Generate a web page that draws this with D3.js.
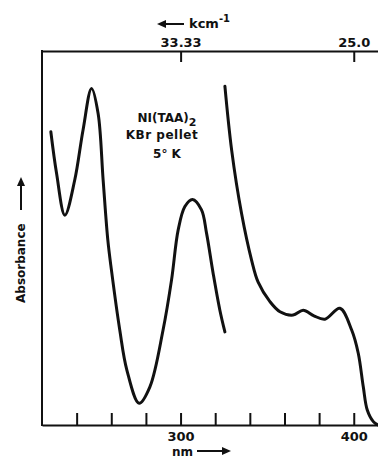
<!DOCTYPE html>
<html>
<head>
<meta charset="utf-8">
<script src="https://cdn.jsdelivr.net/npm/d3@7"></script>
<style>
  body { margin: 0; background: #fff; }
  svg { display: block; }
  text { font-family: 'DejaVu Sans', sans-serif; font-weight: bold; fill: #111; }
  .axis path, .axis line { stroke: #111; stroke-width: 2; }
  .axis text { font-size: 13px; font-family: 'DejaVu Sans', sans-serif; font-weight: bold; }
</style>
</head>
<body>
<div class="spectrum-container"></div>
<script>
// Ni(TAA)2 in KBr, 5 K: wavelength (nm) vs absorbance (arbitrary units)
// UV band, left trace
const uvNm  = [225.1, 228.4, 233.2, 238.9, 243.7, 248.6, 252.4, 255.3, 258.0, 260.1, 264.9, 269.0, 276.1, 282.3, 289.9, 294.8, 298.6, 302.5, 306.9, 312.1, 315.0, 318.8, 322.7, 325.6];
const uvAbs = [0.784, 0.673, 0.561, 0.655, 0.789, 0.900, 0.833, 0.655, 0.495, 0.414, 0.254, 0.147, 0.058, 0.102, 0.254, 0.388, 0.521, 0.584, 0.603, 0.575, 0.513, 0.406, 0.307, 0.249];
// visible trace, right
const visNm  = [325.6, 329.5, 335.2, 341.0, 344.8, 351.6, 357.4, 365.0, 370.8, 377.0, 383.4, 392.0, 398.8, 402.6, 405.5, 407.8, 411.3, 414.0];
const visAbs = [0.906, 0.735, 0.566, 0.441, 0.382, 0.330, 0.303, 0.294, 0.307, 0.292, 0.283, 0.312, 0.254, 0.192, 0.102, 0.040, 0.009, 0.000];

const nmTicks = [240, 260, 280, 300, 320, 340, 360, 380, 400];
const nmLabels = [300, 400];
const kcmTicks = [33.33, 25.0];

const svg_width = 378;
const svg_height = 459;
const margin = { top: 51, right: 0, bottom: 34, left: 42 };

const svg = d3.select('.spectrum-container').append('svg')
    .attr('width', svg_width).attr('height', svg_height);

// scales
const xScale = d3.scaleLinear().domain([220, 414]).range([margin.left, svg_width - margin.right]);
const yScale = d3.scaleLinear().domain([0, 1]).range([svg_height - margin.bottom, margin.top]);

// axes
const xAxis = d3.axisBottom(xScale).tickValues(nmTicks)
    .tickFormat(d => nmLabels.includes(d) ? d : '')
    .tickSizeInner(-12).tickSizeOuter(0).tickPadding(7);
svg.append('g').attr('class', 'x axis')
    .attr('transform', `translate(0,${yScale(0)})`)
    .call(xAxis);

// top axis in wavenumbers (kcm^-1), 1e4 / kcm = nm
const topAxis = d3.axisTop(xScale).tickValues(kcmTicks.map(k => 1e4 / k))
    .tickFormat((d, i) => kcmTicks[i] === 25 ? '25.0' : kcmTicks[i])
    .tickSizeInner(-11).tickSizeOuter(0).tickPadding(4);
svg.append('g').attr('class', 'top axis')
    .attr('transform', `translate(0,${yScale(1)})`)
    .call(topAxis);

// left frame line
svg.append('line')
    .attr('x1', margin.left).attr('x2', margin.left)
    .attr('y1', yScale(1) - 1).attr('y2', yScale(0) + 1)
    .style('stroke', '#111').style('stroke-width', 2);

// traces
const line = d3.line()
    .x(d => xScale(d[0]))
    .y(d => yScale(d[1]))
    .curve(d3.curveCatmullRom.alpha(0.5));

const traces = [d3.zip(uvNm, uvAbs), d3.zip(visNm, visAbs)];
svg.selectAll('.trace').data(traces).enter()
    .append('path')
    .attr('class', 'trace')
    .attr('d', line)
    .style('fill', 'none')
    .style('stroke', '#111')
    .style('stroke-width', 3)
    .style('stroke-linejoin', 'round')
    .style('stroke-linecap', 'round');

// sample label
const note = svg.append('text').attr('text-anchor', 'middle').style('font-size', '12px');
const l1 = note.append('tspan').attr('x', 167).attr('y', 122).text('NI(TAA)');
l1.clone().text('2').attr('x', null).attr('y', null).attr('dy', 4).style('font-size', '11px');
svg.append('text').attr('text-anchor', 'middle').attr('x', 162).attr('y', 139)
    .style('font-size', '12px').style('letter-spacing', '0.5px').text('KBr pellet');
svg.append('text').attr('text-anchor', 'middle').attr('x', 167).attr('y', 158)
    .style('font-size', '12px').text('5° K');

// arrows helper
function arrow(g, x1, y1, x2, y2) {
    const ang = Math.atan2(y2 - y1, x2 - x1);
    const hl = 9, hw = 4;
    g.append('line').attr('x1', x1).attr('y1', y1).attr('x2', x2 - Math.cos(ang) * hl * 0.8).attr('y2', y2 - Math.sin(ang) * hl * 0.8)
        .style('stroke', '#111').style('stroke-width', 2);
    const bx = x2 - Math.cos(ang) * hl, by = y2 - Math.sin(ang) * hl;
    g.append('path')
        .attr('d', `M${x2},${y2}L${bx - Math.sin(ang) * hw},${by + Math.cos(ang) * hw}L${bx + Math.sin(ang) * hw},${by - Math.cos(ang) * hw}Z`)
        .style('fill', '#111');
}

// top label
arrow(svg, 184, 24, 157, 24);
const kt = svg.append('text').attr('x', 189).attr('y', 28).style('font-size', '13px');
kt.append('tspan').text('kcm');
kt.append('tspan').attr('dy', -6).style('font-size', '10px').text('-1');

// bottom label
svg.append('text').attr('x', 172).attr('y', 456).style('font-size', '12px').text('nm');
arrow(svg, 197, 451, 231, 451);

// y label
svg.append('text')
    .attr('transform', 'translate(25,303) rotate(-90)')
    .style('font-size', '12px')
    .text('Absorbance');
arrow(svg, 21, 210, 21, 177);
</script>
</body>
</html>
